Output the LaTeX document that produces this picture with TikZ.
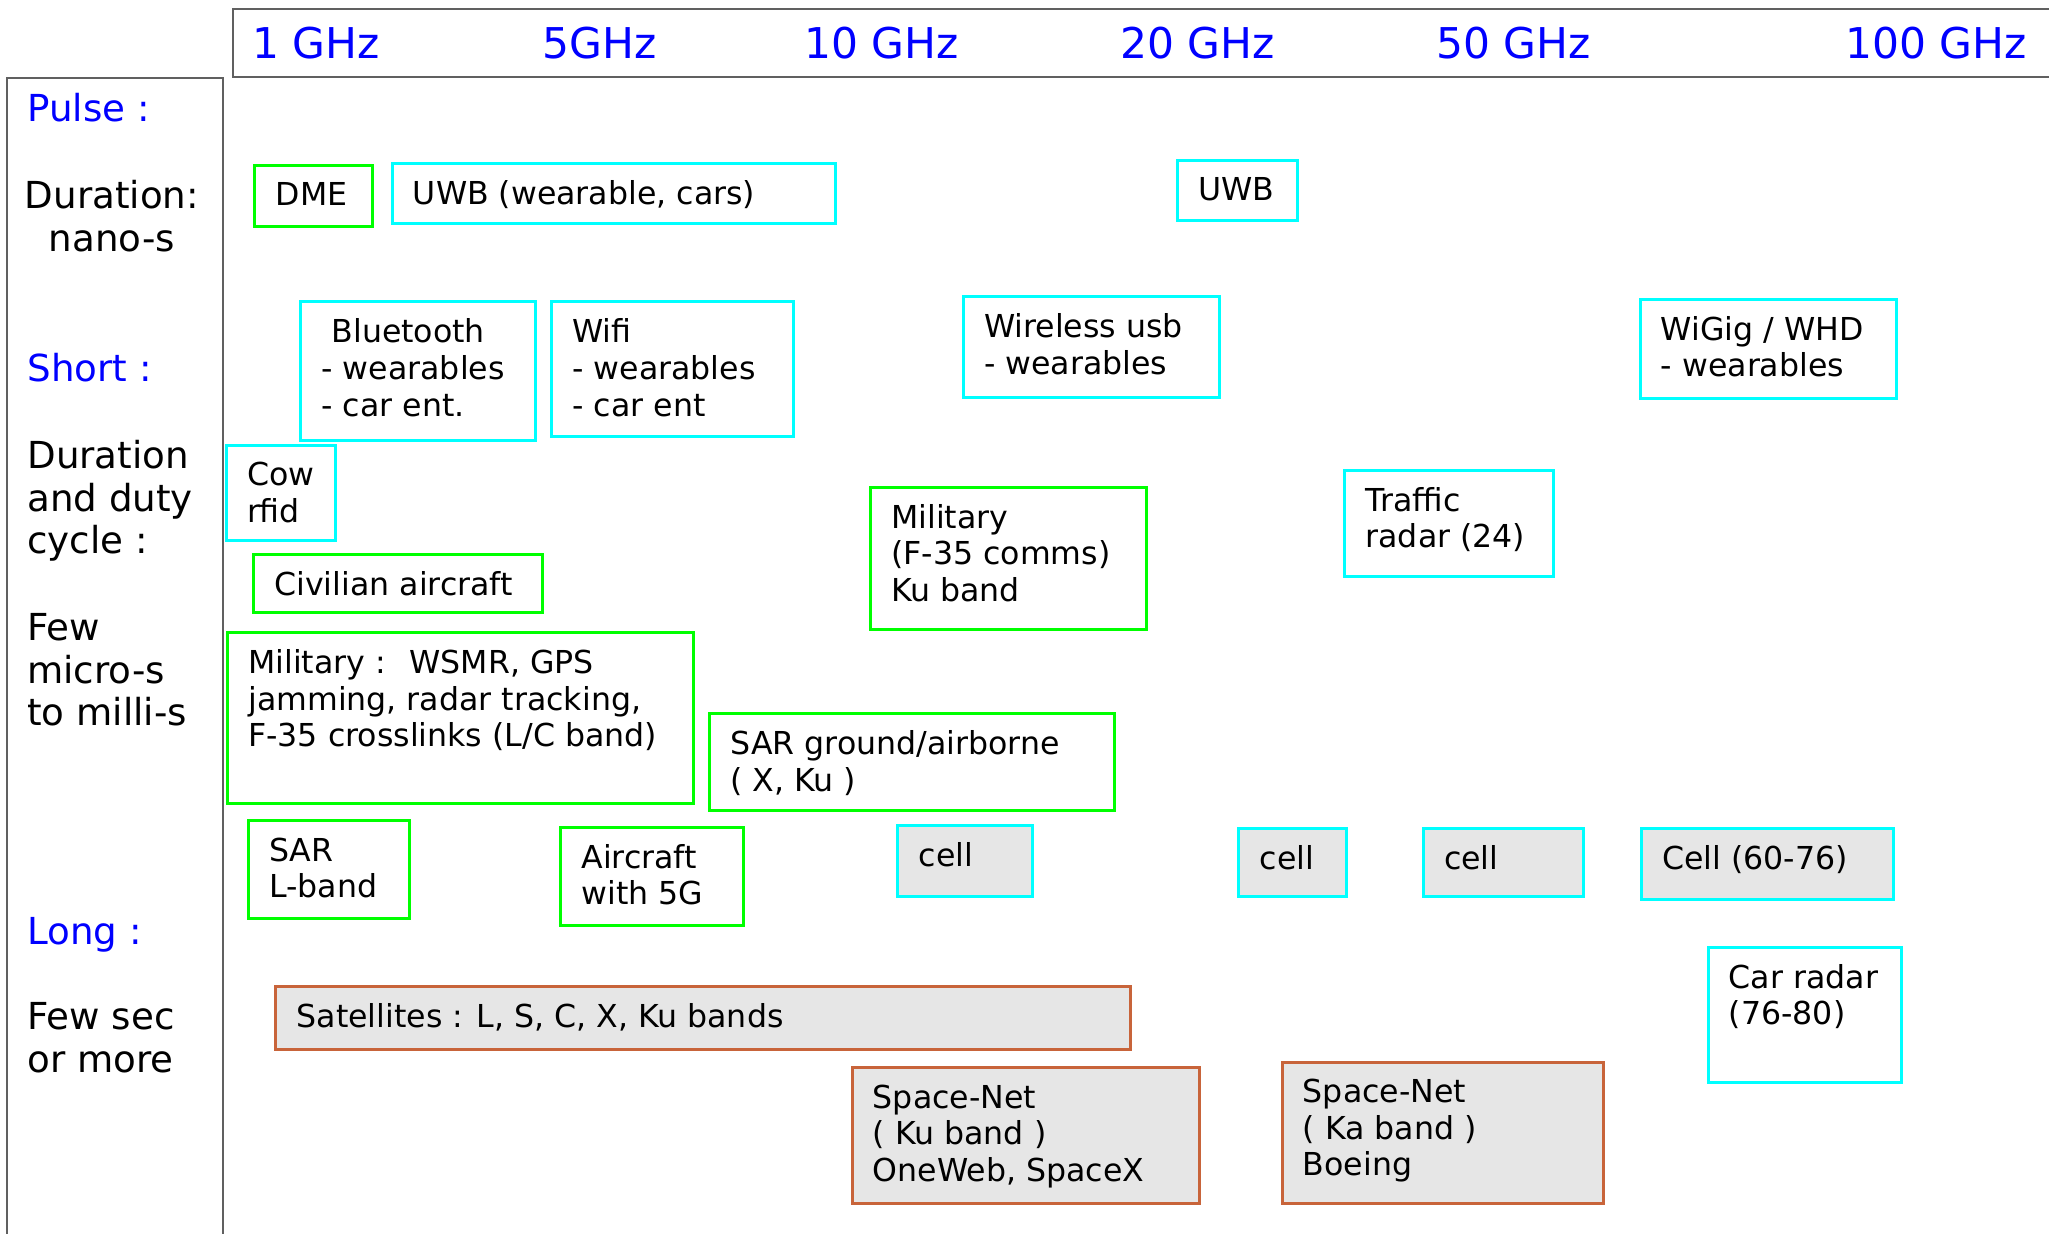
\documentclass[tikz,border=0pt]{standalone}
\usepackage{fontspec}
\setmainfont{DejaVu Sans}
\definecolor{BandGreen}{HTML}{00FF00}
\definecolor{BandCyan}{HTML}{00FFFF}
\definecolor{BandBrown}{HTML}{C8643A}
\definecolor{BandGray}{HTML}{E6E6E6}
\definecolor{PanelGray}{HTML}{606060}
\usetikzlibrary{positioning,fit,calc}

\begin{document}
\begin{tikzpicture}[x=0.5pt, y=-0.5pt,
    gbox/.style={draw=BandGreen, line width=1.5pt, inner sep=0pt},
    cbox/.style={draw=BandCyan, line width=1.5pt, inner sep=0pt},
    cellbox/.style={cbox, fill=BandGray},
    satbox/.style={draw=BandBrown, line width=1.5pt, fill=BandGray, inner sep=0pt},
    txt/.style={inner sep=0pt, align=left, font=\fontsize{15.8}{18.3}\selectfont},
    side/.style={inner sep=0pt, align=left, font=\fontsize{18.6}{21.3}\selectfont},
    freq/.style={inner sep=0pt, text=blue, anchor=base west, font=\fontsize{21.2}{25}\selectfont},
    panel/.style={draw=PanelGray, line width=1pt, inner sep=0pt}]
  \useasboundingbox (0,0) rectangle (2049,1234);

  % frequency bar and duration column
  \node[panel, fit={(232.6,9) (2080,77)}] (freqbar) {};
  \node[panel, fit={(6.5,78) (222.5,1270)}] (durbar) {};

  \node[freq] (f1) at (252,58.5) {1 GHz};
  \node[freq] (f5) at (542,58.5) {5GHz};
  \node[freq] (f10) at (804,58.5) {10 GHz};
  \node[freq] (f20) at (1120,58.5) {20 GHz};
  \node[freq] (f50) at (1436,58.5) {50 GHz};
  \node[freq] (f100) at (1845,58.5) {100 GHz};

  \node[side, text=blue, anchor=base west] (pulse) at (27,122) {Pulse :};
  \node[side, align=center, anchor=north] (nano) at (112,180) {Duration:\\nano-s};
  \node[side, text=blue, anchor=base west] (short) at (27,382) {Short :};
  \node[side, anchor=north west] (duty) at (27,440) {Duration\\and duty\\cycle :};
  \node[side, anchor=north west] (micro) at (27,613) {Few\\micro-s\\to milli-s};
  \node[side, text=blue, anchor=base west] (long) at (27,944) {Long :};
  \node[side, anchor=north west] (sec) at (27,1002) {Few sec\\or more};

  % pulse
  \node[gbox, fit={(254.8,166.0) (372.4,226.1)}] (dme) {};
  \node[txt, below right=9pt and 11pt of dme.north west] (dme-t) {DME};
  \node[cbox, fit={(392.0,163.4) (835.0,223.5)}] (uwbcar) {};
  \node[txt, below right=9pt and 11pt of uwbcar.north west] (uwbcar-t) {UWB (wearable, cars)};
  \node[cbox, fit={(1177.4,160.7) (1297.7,220.8)}] (uwb) {};
  \node[txt, below right=9pt and 11pt of uwb.north west] (uwb-t) {UWB};

  % short
  \node[cbox, fit={(300.6,301.9) (535.8,440.4)}] (bt) {};
  \node[txt, below right=9pt and 11pt of bt.north west] (bt-t) {~Bluetooth\\- wearables\\- car ent.};
  \node[cbox, fit={(551.5,301.9) (793.2,436.5)}] (wifi) {};
  \node[txt, below right=9pt and 11pt of wifi.north west] (wifi-t) {Wifi\\- wearables\\- car ent};
  \node[cbox, fit={(963.1,296.6) (1219.2,397.3)}] (wusb) {};
  \node[txt, below right=9pt and 11pt of wusb.north west] (wusb-t) {Wireless usb\\- wearables};
  \node[cbox, fit={(1640.0,299.3) (1896.2,398.6)}] (wigig) {};
  \node[txt, below right=9pt and 11pt of wigig.north west] (wigig-t) {WiGig / WHD\\- wearables};
  \node[cbox, fit={(226.1,445.6) (335.8,541.0)}] (cow) {};
  \node[txt, below right=9pt and 11pt of cow.north west] (cow-t) {Cow\\rfid};
  \node[gbox, fit={(253.5,554.1) (542.3,612.9)}] (civil) {};
  \node[txt, below right=9pt and 11pt of civil.north west] (civil-t) {Civilian aircraft};
  \node[gbox, fit={(870.3,487.4) (1146.1,629.9)}] (milku) {};
  \node[txt, below right=9pt and 11pt of milku.north west] (milku-t) {Military\\(F-35 comms)\\Ku band};
  \node[cbox, fit={(1344.7,470.4) (1553.8,576.3)}] (traffic) {};
  \node[txt, below right=9pt and 11pt of traffic.north west] (traffic-t) {Traffic\\radar (24)};
  \node[gbox, fit={(227.4,632.5) (693.9,803.7)}] (wsmr) {};
  \node[txt, below right=9pt and 11pt of wsmr.north west] (wsmr-t) {Military :~ WSMR, GPS\\jamming, radar tracking,\\F-35 crosslinks (L/C band)};
  \node[gbox, fit={(709.6,713.5) (1114.7,810.2)}] (sarair) {};
  \node[txt, below right=9pt and 11pt of sarair.north west] (sarair-t) {SAR ground/airborne\\( X, Ku )};
  \node[gbox, fit={(248.3,820.7) (409.0,918.7)}] (sarl) {};
  \node[txt, below right=9pt and 11pt of sarl.north west] (sarl-t) {SAR\\L-band};
  \node[gbox, fit={(560.6,827.2) (743.6,925.2)}] (air5g) {};
  \node[txt, below right=9pt and 11pt of air5g.north west] (air5g-t) {Aircraft\\with 5G};

  % long
  \node[cellbox, fit={(897.8,825.9) (1032.4,896.5)}] (cell1) {};
  \node[txt, below right=9pt and 11pt of cell1.north west] (cell1-t) {cell};
  \node[cellbox, fit={(1238.8,828.5) (1346.0,896.5)}] (cell2) {};
  \node[txt, below right=9pt and 11pt of cell2.north west] (cell2-t) {cell};
  \node[cellbox, fit={(1423.1,828.5) (1583.8,896.5)}] (cell3) {};
  \node[txt, below right=9pt and 11pt of cell3.north west] (cell3-t) {cell};
  \node[cellbox, fit={(1641.3,828.5) (1893.6,899.1)}] (cell4) {};
  \node[txt, below right=9pt and 11pt of cell4.north west] (cell4-t) {Cell (60-76)};
  \node[cbox, fit={(1708.0,947.4) (1901.4,1082.0)}] (carradar) {};
  \node[txt, below right=9pt and 11pt of carradar.north west] (carradar-t) {Car radar\\(76-80)};
  \node[satbox, fit={(275.7,986.6) (1130.4,1049.4)}] (sat) {};
  \node[txt, below right=9pt and 11pt of sat.north west] (sat-t) {Satellites : L, S, C, X, Ku bands};
  \node[satbox, fit={(852.0,1067.7) (1199.6,1203.6)}] (spaceku) {};
  \node[txt, below right=9pt and 11pt of spaceku.north west] (spaceku-t) {Space-Net\\( Ku band )\\OneWeb, SpaceX};
  \node[satbox, fit={(1282.0,1062.4) (1603.4,1203.6)}] (spaceka) {};
  \node[txt, below right=9pt and 11pt of spaceka.north west] (spaceka-t) {Space-Net\\( Ka band )\\Boeing};
\end{tikzpicture}
\end{document}
